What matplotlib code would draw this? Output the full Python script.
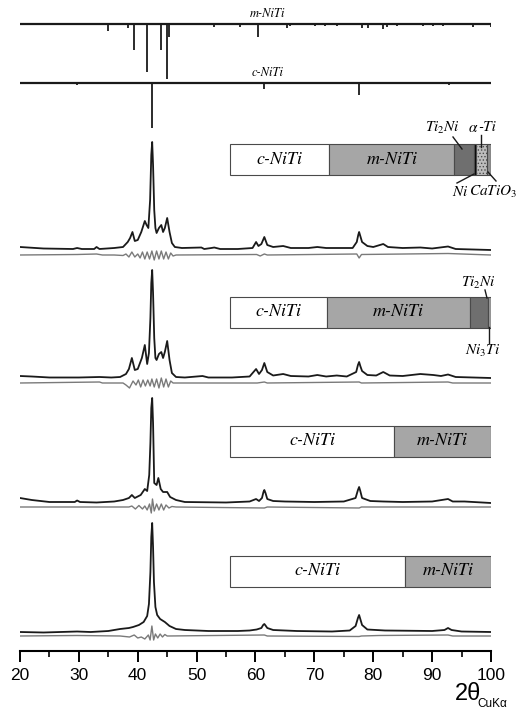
import numpy as np
import matplotlib
matplotlib.use("Agg")
import matplotlib.pyplot as plt

plt.rcParams['mathtext.fontset'] = 'stix'
plt.rcParams['hatch.linewidth'] = 0.6

# ---------------- data ----------------
# reference stick patterns (2theta, relative intensity)
m_niti_pos = [29.0, 31.4, 35.0, 38.3, 39.4, 41.6, 44.0, 45.0, 45.3, 48.9, 53.0, 57.4, 60.4,
              65.4, 65.8, 69.0, 70.1, 71.8, 73.8, 78.1, 79.1, 81.7, 82.3, 84.0, 88.4, 90.1,
              91.8, 96.9, 100.0]
m_niti_int = [1, 1, 7, 4, 26, 48, 26, 55, 13, 1, 3, 3, 13,
              4, 2, 1, 2, 2, 1.5, 4, 4, 5, 3, 2, 1.5, 2,
              1.5, 3, 3]
c_niti_pos = [29.7, 42.4, 61.5, 77.6, 92.9]
c_niti_int = [2, 45, 6, 12, 2]

# measured patterns (2theta, intensity above own baseline)
s1_x = [20, 24, 29, 29.7, 30.5, 32.6, 33.0, 33.5, 36, 37.5, 38.3, 38.7, 39.1, 39.5, 40.0, 40.6,
        41.2, 41.5, 41.8, 42.1, 42.3, 42.45, 42.6, 42.8, 43.0, 43.2, 43.6, 44.0, 44.3, 44.6,
        45.0, 45.4, 45.8, 46.3, 47.5, 50.8, 51.3, 52.5, 53, 54, 57, 59.5, 60.1, 60.5, 61.0,
        61.5, 62.0, 63, 64.7, 66, 69, 70.5, 72, 73.8, 76.5, 77.2, 77.45, 77.6, 77.8, 78.1, 79,
        80, 81.7, 82.5, 85, 88, 90, 92.7, 94, 100]
s1_y = [3, 1.5, 1, 2, 1, 1, 3, 1, 2, 3, 8, 12, 18, 9, 10, 18,
        29, 25, 22, 50, 95, 108, 85, 40, 22, 17, 22, 25, 18, 22,
        32, 18, 7, 3, 2, 2.5, 1, 2, 2.5, 1, 1, 2, 8, 4, 6,
        13, 5, 3, 4, 2, 2, 3, 2, 2, 2, 8, 15, 18, 14, 8, 4,
        3, 6, 3, 2, 2.5, 1.5, 3.5, 1, 0]

s2_x = [20, 22, 25, 30, 33.5, 35.5, 37, 38.0, 38.5, 39.0, 39.5, 40.0, 40.7, 41.2, 41.6, 41.9,
        42.15, 42.3, 42.45, 42.6, 42.8, 43.0, 43.2, 43.6, 44.0, 44.3, 44.6, 45.0, 45.4, 45.8,
        46.5, 48, 51, 52, 56, 59, 60.1, 60.6, 61.1, 61.5, 62.0, 63, 64.7, 66, 69, 70.5, 72,
        73.8, 75.5, 77.1, 77.4, 77.6, 77.8, 78.1, 79, 80.5, 81.7, 82.8, 85, 88, 90.2, 91.5,
        92.7, 94, 100]
s2_y = [2, 1.5, 0.5, 0.5, 1, 0.5, 1, 4, 9, 20, 8, 9, 20, 33, 14, 25,
        60, 95, 108, 85, 40, 20, 18, 24, 26, 20, 26, 37, 18, 5,
        1, 0.5, 2, 0.5, 0.5, 1.5, 9, 4, 8, 15, 6, 2.5, 4, 2, 1.5, 3, 1.5,
        2.5, 1.5, 6, 13, 16, 12, 7, 3, 2.5, 6, 2.5, 2, 4, 3, 2,
        3.5, 1, 0]

s3_x = [20, 22, 25, 29.3, 29.7, 30.2, 33, 36, 37.5, 38.5, 39.0, 39.5, 40.5, 41.2, 41.6, 41.95,
        42.15, 42.3, 42.45, 42.6, 42.8, 43.2, 43.5, 43.9, 44.3, 45.0, 45.5, 46.5, 48, 55, 59,
        60.1, 60.6, 61.1, 61.35, 61.5, 61.7, 62.0, 63, 65, 70, 75, 77.0, 77.4, 77.6, 77.8, 78.1,
        79.5, 81.7, 85, 90, 92.7, 93.5, 95.5, 100]
s3_y = [5, 3, 1, 1, 2.5, 1, 0.5, 1.5, 3, 5, 8, 5, 8, 14, 12, 28,
        60, 95, 105, 80, 20, 18, 25, 14, 11, 11, 6, 3, 1, 0.5, 1.5,
        4, 2, 5, 11, 13, 10, 4, 2, 1.5, 1, 1.5, 5, 13, 16, 12, 5,
        2, 1.5, 1, 1.5, 4, 1.5, 1.5, 0]

s4_x = [20, 24, 29.7, 32, 35, 37, 38.5, 39.2, 40.2, 41.0, 41.6, 41.9, 42.15, 42.3, 42.45,
        42.6, 42.75, 43.0, 43.3, 43.8, 44.6, 45.4, 46.5, 48, 52, 57, 59, 60.2, 61.0, 61.3,
        61.5, 61.7, 62.0, 63, 67, 73, 76, 77.0, 77.4, 77.6, 77.8, 78.1, 79, 82, 90, 92.1,
        92.7, 93.3, 95, 100]
s4_y = [0, -0.5, 0.5, 0, 1, 3, 4, 5, 7, 10, 16, 28, 60, 95, 109,
        85, 50, 25, 17, 13, 10, 6, 3, 2, 1, 1, 1.5, 2.5, 4, 7,
        8, 6.5, 4, 2, 1, 0.5, 1.5, 6, 14, 17, 13, 7, 2.5, 1.5, 1, 2,
        4, 2, 0.5, 0]

# difference curves
d1_x = [20, 29.7, 33, 34, 36, 37.5, 38.0, 38.5, 39.0, 39.5, 40.0, 40.4, 40.8, 41.2, 41.6, 42.0,
        42.4, 42.8, 43.2, 43.6, 44.0, 44.4, 44.8, 45.2, 45.6, 46, 46.5, 60.2, 60.8, 61.5, 62,
        77.2, 77.6, 78.0, 92.7, 100]
d1_y = [0, 0.5, 1, 0, 0, -0.5, 1, -2, 3, -2, 1, -3, 3, -4, 3, -4,
        4, -5, 4, -4, 4, -4, 3, -4, 2, -1, 0, 0.5, -1, 1, 0,
        1, -3, 0.5, 1.5, 0]
d2_x = [20, 33.5, 34, 37.5, 38.0, 38.6, 39.2, 39.7, 40.1, 40.5, 40.9, 41.3, 41.7, 42.1, 42.4,
        42.8, 43.2, 43.6, 44.0, 44.4, 44.8, 45.2, 45.6, 46, 60.3, 61.5, 62, 77.6, 78, 92.7, 93.5, 100]
d2_y = [0, 1, 0, 0, -2, -5, 2, -2, 3, -4, 3, -3, 3, -3, 4,
        -4, 4, -5, 5, -4, 4, -4, 2, 0, 0, 1, 0, 1, 0, 1, 0, 0]
d3_x = [20, 38.5, 39.0, 39.6, 40.2, 40.8, 41.2, 41.6, 42.0, 42.3, 42.5, 42.8, 43.2, 43.6, 44.0,
        44.4, 44.8, 45.3, 45.8, 46.5, 61.5, 62, 77.6, 78, 100]
d3_y = [0, 0, 1, -2, 1.5, -2, 1, -3, 3, -6, 8, -4, 3, -3, 3,
        -3, 2, -1, 0.5, 0, -1, 0, -1, 0, 0]
d4_x = [20, 29.7, 37, 38.6, 39.4, 40.0, 40.6, 41.2, 41.8, 42.1, 42.4, 42.7, 43.0, 43.4, 43.8,
        44.2, 44.6, 45, 61.5, 62, 77.6, 78, 81, 92.7, 93.5, 100]
d4_y = [0, 0.5, 0, -1, 1, -2, -1, -3, 1, -4, 10, -4, 2, -2, 2,
        -1, 1.5, 0, 1, 0, -0.5, 0, 0.5, 1, 0, 0]

# phase fractions (%) for each sample, top to bottom
bar1_names = ['c-NiTi', 'm-NiTi', 'Ti2Ni', 'Ni', 'a-Ti', 'CaTiO3']
bar1_frac = [38.0, 48.0, 7.3, 1.1, 4.2, 1.4]
bar2_names = ['c-NiTi', 'm-NiTi', 'Ti2Ni', 'Ni3Ti']
bar2_frac = [37.0, 55.0, 6.9, 1.1]
bar3_names = ['c-NiTi', 'm-NiTi']
bar3_frac = [63.0, 37.0]
bar4_names = ['c-NiTi', 'm-NiTi']
bar4_frac = [67.0, 33.0]

x_ticks = [20, 30, 40, 50, 60, 70, 80, 90, 100]

# ---------------- style ----------------
phase_style = {
    'c-NiTi': dict(color='white'),
    'm-NiTi': dict(color='#a6a6a6'),
    'Ti2Ni': dict(color='#6f6f6f'),
    'Ni': dict(color='#000000'),
    'a-Ti': dict(color='#bdbdbd', hatch='.....'),
    'CaTiO3': dict(color='#8c8c8c'),
    'Ni3Ti': dict(color='#9a9a9a'),
}
label_font = dict(family='STIXGeneral', style='italic')

W, H = 516, 715
fig = plt.figure(figsize=(W / 100, H / 100), dpi=100)
ax = fig.add_axes([20 / W, 64 / H, 471 / W, 651 / H])
ax.set_xlim(20, 100)
ax.set_ylim(0, 651)

dark = '#1a1a1a'
grey = '#7a7a7a'

# reference patterns
m_base, c_base = 627, 568
ax.plot([20, 100], [m_base, m_base], color=dark, lw=1.6, solid_capstyle='butt')
ax.vlines(m_niti_pos, m_base, m_base - np.array(m_niti_int), color=dark, lw=1.3)
ax.text(62.1, m_base + 4, 'm-NiTi', ha='center', va='bottom', fontsize=9, **label_font)
ax.plot([20, 100], [c_base, c_base], color=dark, lw=1.6, solid_capstyle='butt')
ax.vlines(c_niti_pos, c_base, c_base - np.array(c_niti_int), color=dark, lw=1.3)
ax.text(62.1, c_base + 4, 'c-NiTi', ha='center', va='bottom', fontsize=9, **label_font)

# spectra
spec_offsets = [401, 273, 148, 19]
diff_offsets = [396, 268, 144, 15]
spectra = [(s1_x, s1_y), (s2_x, s2_y), (s3_x, s3_y), (s4_x, s4_y)]
diffs = [(d1_x, d1_y), (d2_x, d2_y), (d3_x, d3_y), (d4_x, d4_y)]
for (sx, sy), off in zip(spectra, spec_offsets):
    ax.plot(sx, np.array(sy) + off, color=dark, lw=1.3, zorder=3, solid_joinstyle='round')
for (dx, dy), off in zip(diffs, diff_offsets):
    ax.plot(dx, np.array(dy) + off, color=grey, lw=1.0, zorder=2)

# phase bars
bar_x0, bar_w = 55.67, 44.33
bar_centers = [491.5, 339, 210, 80]
bar_h = 31
bars = [(bar1_names, bar1_frac), (bar2_names, bar2_frac), (bar3_names, bar3_frac),
        (bar4_names, bar4_frac)]
for (names, fr), yc in zip(bars, bar_centers):
    left = bar_x0
    pos = {}
    for n, f in zip(names, fr):
        w = bar_w * f / sum(fr)
        st = phase_style[n]
        ax.barh(yc, w, left=left, height=bar_h, color=st['color'], hatch=st.get('hatch'),
                edgecolor='#4a4a4a', linewidth=0.8, zorder=4)
        pos[n] = (left, left + w)
        left += w
    for n in ['c-NiTi', 'm-NiTi']:
        a, b = pos[n]
        ax.text((a + b) / 2, yc, n, ha='center', va='center', fontsize=13, zorder=5,
                **label_font)

def deg(px):
    return 20 + (px - 20) / 5.8875

def hh(py):
    return 651 - py

lkw = dict(color=dark, lw=1.0, clip_on=False, zorder=6)
fs = 11
# bar 1 callouts
ax.plot([deg(453), deg(462)], [hh(137), hh(149)], **lkw)
ax.text(deg(442), hh(128), r'$Ti_2Ni$', ha='center', va='center', fontsize=fs)
ax.plot([deg(481), deg(481)], [hh(135), hh(147)], **lkw)
ax.text(deg(478), hh(127), r'$\alpha$', ha='right', va='center', fontsize=fs)
ax.text(deg(478), hh(127), '-Ti', ha='left', va='center', fontsize=fs, **label_font)
ax.plot([deg(457), deg(474)], [hh(183), hh(174)], **lkw)
ax.text(deg(460), hh(192), r'$Ni$', ha='center', va='center', fontsize=fs)
ax.plot([deg(488), deg(496)], [hh(172), hh(181)], **lkw)
ax.text(deg(469), hh(192), r'$CaTiO_3$', ha='left', va='center', fontsize=11)
# bar 2 callouts
ax.plot([deg(485), deg(487)], [hh(290), hh(298)], **lkw)
ax.text(deg(478), hh(283), r'$Ti_2Ni$', ha='center', va='center', fontsize=fs)
ax.plot([deg(489), deg(489)], [hh(327), hh(343)], **lkw)
ax.text(deg(483), hh(351), r'$Ni_3Ti$', ha='center', va='center', fontsize=fs)

# axes styling
for s in ['left', 'right', 'top']:
    ax.spines[s].set_visible(False)
ax.spines['bottom'].set_linewidth(1.5)
ax.set_yticks([])
ax.set_xticks(x_ticks)
ax.set_xticks(np.arange(25, 100, 10), minor=True)
ax.tick_params(axis='x', which='major', direction='out', length=8, width=1.4, pad=4,
               labelsize=12.5)
ax.tick_params(axis='x', which='minor', direction='out', length=4, width=1.2)
for t in ax.get_xticklabels():
    t.set_fontfamily('Liberation Sans')

fig.text(455 / W, 1 - 700 / H, '2θ', fontsize=17, family='Liberation Sans', ha='left',
         va='baseline')
fig.text(477 / W, 1 - 707 / H, 'CuKα', fontsize=8.5, family='Liberation Sans', ha='left',
         va='baseline')

fig.savefig('out.png', dpi=100)
